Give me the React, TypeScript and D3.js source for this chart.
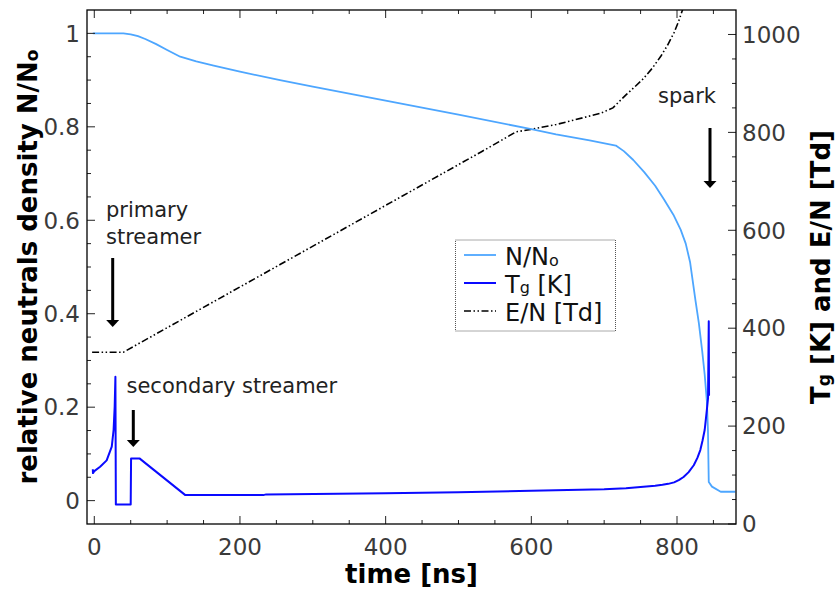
import React from "react";
import * as d3 from "d3";

// ---------- data ----------
const timeNN = [-2, 40, 50, 60, 70, 85, 100, 118, 140, 164, 200, 255, 300, 400, 500, 600, 634, 680, 716, 727, 740, 755, 770, 782, 795, 805, 812, 818, 825.5, 830, 834.6, 838, 841, 842.5, 843.6, 848, 860, 880];
const valNN = [1, 1, 0.998, 0.994, 0.988, 0.977, 0.9645, 0.95, 0.94, 0.931, 0.918, 0.9, 0.886, 0.856, 0.826, 0.795, 0.784, 0.771, 0.76, 0.748, 0.729, 0.703, 0.674, 0.645, 0.612, 0.58, 0.55, 0.51, 0.427, 0.38, 0.32, 0.27, 0.213, 0.15, 0.04, 0.03, 0.019, 0.019];

const timeTg = [-2, -1.8, 0, 8, 17, 24, 26.5, 28, 29, 29.6, 50, 50.5, 62, 125, 232, 236, 400, 500, 600, 700, 730, 762, 770, 780, 788, 796, 803, 809, 816, 823, 828, 832, 835, 838, 841, 842.6, 843.6, 844];
const valTg = [112, 104, 108, 117, 130, 158, 192, 240, 301, 40, 40, 134, 134, 59, 59, 60.5, 63, 65, 68, 71, 73, 77, 78, 80, 82, 85, 90, 96, 106, 120, 135, 151, 170, 192, 233, 257, 414, 262];

const timeEN = [-3, 40, 255, 531, 579, 599, 634, 695, 712, 720, 731, 742, 754, 766, 778, 787, 796, 802, 808, 815];
const valEN = [351, 351, 530, 760, 801, 806, 816, 839, 850, 862, 878, 893, 910, 931, 956, 978, 1004, 1026, 1052, 1090];

const xMajorTicks = [0, 200, 400, 600, 800];
const leftMajorTicks = [0, 0.2, 0.4, 0.6, 0.8, 1];
const leftTickLabels = ["0", "0.2", "0.4", "0.6", "0.8", "1"];
const rightMajorTicks = [0, 200, 400, 600, 800, 1000];

// ---------- layout ----------
const W = 839, H = 590;
const L = 87, R = 736, T = 10, B = 524;
const FONT = "DejaVu Sans";

export default function App() {
  const x = d3.scaleLinear().domain([-10, 881]).range([L, R]);
  const yL = d3.scaleLinear().domain([-0.05, 1.05]).range([B, T]);
  const yR = d3.scaleLinear().domain([0, 1050]).range([B, T]);

  const lineNN = d3.line<number>().x((_, i) => x(timeNN[i])).y((d) => yL(d))(valNN) || "";
  const lineTg = d3.line<number>().x((_, i) => x(timeTg[i])).y((d) => yR(d))(valTg) || "";
  const lineEN = d3.line<number>().x((_, i) => x(timeEN[i])).y((d) => yR(d))(valEN) || "";

  const xMinor = d3.range(0, 881, 50).filter((v) => !xMajorTicks.includes(v));
  const lMinor = d3.range(0, 21).map((i) => i * 0.05).filter((v, i) => i % 4 !== 0);
  const rMinor = d3.range(0, 1050, 50).filter((v) => v % 200 !== 0);

  const tickColor = "#222";
  const labelColor = "#3a3a3a";
  const cNN = "#4da6ff";
  const cTg = "#0a0aff";
  const dash = "7,2.5,1.5,2.5,1.5,2.5";

  const arrow = (ax: number, y0: number, y1: number, key: string) => (
    <g key={key}>
      <line x1={ax} x2={ax} y1={y0} y2={y1 - 6} stroke="#000" strokeWidth={3} />
      <path d={`M${ax - 6.5},${y1 - 7} L${ax + 6.5},${y1 - 7} L${ax},${y1} Z`} fill="#000" />
    </g>
  );

  return (
    <svg width={W} height={H} style={{ position: "absolute", left: 0, top: 0, background: "#fff" }} fontFamily={FONT}>
      <defs>
        <clipPath id="plotclip">
          <rect x={L} y={T} width={R - L} height={B - T} />
        </clipPath>
      </defs>

      {/* series */}
      <g clipPath="url(#plotclip)" fill="none">
        <path d={lineEN} stroke="#000" strokeWidth={1.6} strokeDasharray={dash} />
        <path d={lineNN} stroke={cNN} strokeWidth={1.8} strokeLinejoin="round" />
        <path d={lineTg} stroke={cTg} strokeWidth={2} strokeLinejoin="round" />
      </g>

      {/* ticks bottom & top */}
      {xMajorTicks.map((v) => (
        <g key={"xM" + v}>
          <line x1={x(v)} x2={x(v)} y1={B} y2={B - 8} stroke={tickColor} strokeWidth={1} />
          <line x1={x(v)} x2={x(v)} y1={T} y2={T + 8} stroke={tickColor} strokeWidth={1} />
          <text x={x(v)} y={555} textAnchor="middle" fontSize={23} fill={labelColor}>{v}</text>
        </g>
      ))}
      {xMinor.map((v) => (
        <g key={"xm" + v}>
          <line x1={x(v)} x2={x(v)} y1={B} y2={B - 4} stroke={tickColor} strokeWidth={1} />
          <line x1={x(v)} x2={x(v)} y1={T} y2={T + 4} stroke={tickColor} strokeWidth={1} />
        </g>
      ))}

      {/* left ticks */}
      {leftMajorTicks.map((v, i) => (
        <g key={"lM" + v}>
          <line x1={L} x2={L + 8} y1={yL(v)} y2={yL(v)} stroke={tickColor} strokeWidth={1} />
          <text x={L - 7} y={yL(v)} dy="0.36em" textAnchor="end" fontSize={23} fill={labelColor}>{leftTickLabels[i]}</text>
        </g>
      ))}
      {lMinor.map((v) => (
        <line key={"lm" + v} x1={L} x2={L + 4} y1={yL(v)} y2={yL(v)} stroke={tickColor} strokeWidth={1} />
      ))}

      {/* right ticks */}
      {rightMajorTicks.map((v) => (
        <g key={"rM" + v}>
          <line x1={R} x2={R - 8} y1={yR(v)} y2={yR(v)} stroke={tickColor} strokeWidth={1} />
          <text x={R + 6} y={yR(v)} dy="0.36em" textAnchor="start" fontSize={23} fill={labelColor}>{v}</text>
        </g>
      ))}
      {rMinor.map((v) => (
        <line key={"rm" + v} x1={R} x2={R - 4} y1={yR(v)} y2={yR(v)} stroke={tickColor} strokeWidth={1} />
      ))}

      {/* frame */}
      <rect x={L} y={T} width={R - L} height={B - T} fill="none" stroke="#000" strokeWidth={1.3} />

      {/* axis labels */}
      <text x={x(435.5)} y={583} textAnchor="middle" fontSize={26} fontWeight="bold" fill="#000">time [ns]</text>
      <text transform={`translate(37,${(T + B) / 2}) rotate(-90)`} textAnchor="middle" fontSize={26} fontWeight="bold" fill="#000">
        relative neutrals density N/N<tspan fontSize={17} dy="1">o</tspan>
      </text>
      <text transform={`translate(830,${(T + B) / 2}) rotate(-90)`} textAnchor="middle" fontSize={26} fontWeight="bold" fill="#000">
        T<tspan fontSize={17}>g</tspan> [K] and E/N [Td]
      </text>

      {/* annotations */}
      <text x={106} y={217} fontSize={21} fill="#222">primary</text>
      <text x={106} y={243.5} fontSize={21} fill="#222">streamer</text>
      {arrow(112.7, 258, 327, "a1")}
      <text x={126.5} y={393} fontSize={21} fill="#222">secondary streamer</text>
      {arrow(133.3, 410, 447, "a2")}
      <text x={658} y={103} fontSize={21} fill="#222">spark</text>
      {arrow(710, 128, 188, "a3")}

      {/* legend */}
      <rect x={455.5} y={240} width={160} height={91} fill="#fff" stroke="#555" strokeWidth={1} strokeDasharray="1,1" />
      <line x1={464} x2={496} y1={255} y2={255} stroke={cNN} strokeWidth={1.8} />
      <text x={505} y={265} fontSize={24} fill="#111">N/N<tspan fontSize={16} dy="1">o</tspan></text>
      <line x1={464} x2={496} y1={283} y2={283} stroke={cTg} strokeWidth={2} />
      <text x={505} y={293} fontSize={24} fill="#111">T<tspan fontSize={16}>g</tspan> [K]</text>
      <line x1={464} x2={496} y1={311} y2={311} stroke="#000" strokeWidth={1.6} strokeDasharray={dash} />
      <text x={505} y={321} fontSize={24} fill="#111">E/N [Td]</text>
    </svg>
  );
}
